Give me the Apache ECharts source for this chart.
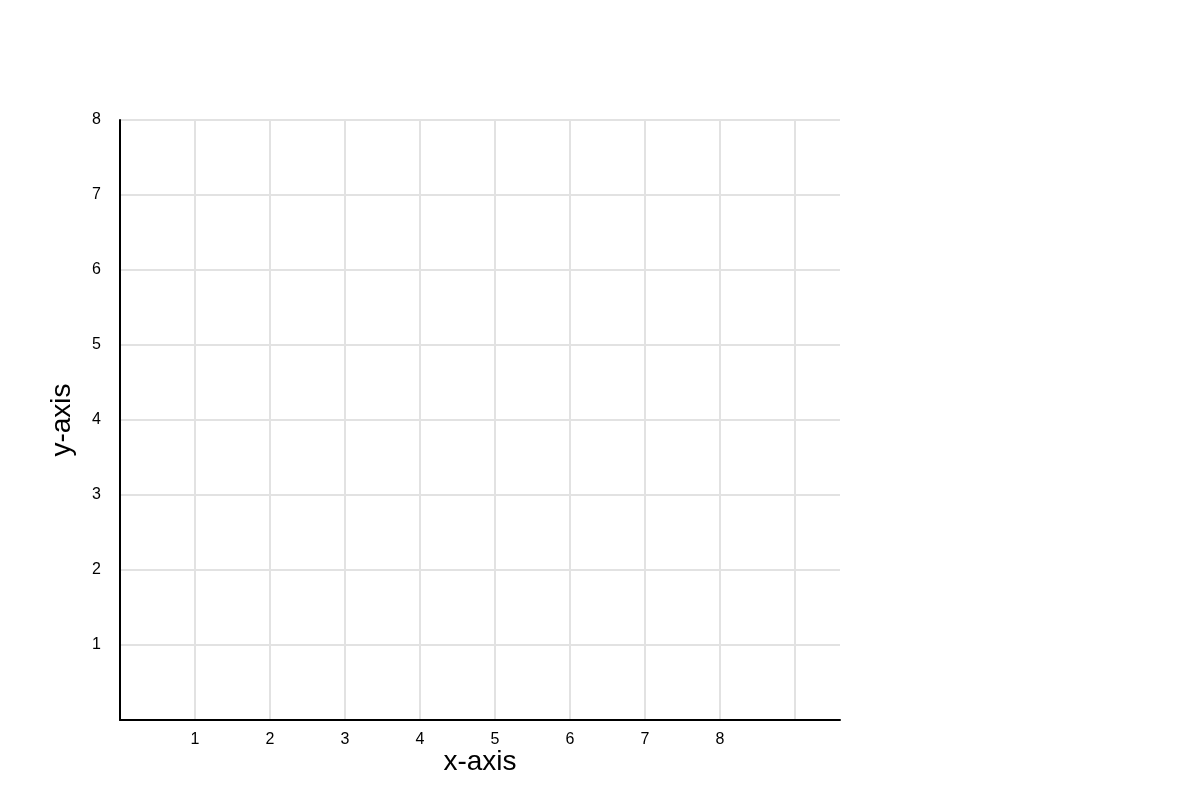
<!DOCTYPE html>
<html>
<head>
  <meta charset="UTF-8">
  <title>chart</title>
  <style>
    * { margin: 0; padding: 0; box-sizing: border-box; }
    body { width: 1200px; height: 800px; background: #fff; overflow: hidden; }
    #chart { width: 1200px; height: 800px; }
  </style>
  <script src="https://cdn.jsdelivr.net/npm/echarts@6/dist/echarts.min.js"></script>
</head>
<body>
  <div id="chart"></div>
  <script>
    // 坐标轴范围与刻度标签
    const xRange = [0, 9.6]
    const yRange = [0, 8]
    const xTickLabels = [1, 2, 3, 4, 5, 6, 7, 8]
    const yTickLabels = [1, 2, 3, 4, 5, 6, 7, 8]
    // 空数据
    const points = []

    const chart = echarts.init(document.getElementById('chart'))

    const axisFont = 'Liberation Sans, Arial, sans-serif'
    const gridColor = '#e2e2e2'

    const option = {
      backgroundColor: '#fff',
      animation: false,
      grid: { left: 120, right: 360, top: 120, bottom: 80 },
      xAxis: {
        type: 'value',
        min: xRange[0],
        max: xRange[1],
        interval: 1,
        name: 'x-axis',
        nameLocation: 'middle',
        nameGap: 28,
        nameMoveOverlap: false,
        nameTextStyle: { fontSize: 28, color: '#000', fontFamily: axisFont },
        axisLine: { show: true, onZero: false, lineStyle: { color: '#000', width: 2 } },
        axisTick: { show: false },
        axisLabel: {
          margin: 12,
          fontSize: 16,
          color: '#000',
          fontFamily: axisFont,
          showMaxLabel: false,
          formatter: v => xTickLabels.includes(v) ? String(v) : ''
        },
        splitLine: {
          show: true,
          showMinLine: false,
          showMaxLine: false,
          lineStyle: { color: gridColor, width: 2 }
        }
      },
      yAxis: {
        type: 'value',
        min: yRange[0],
        max: yRange[1],
        interval: 1,
        name: 'y-axis',
        nameLocation: 'middle',
        nameGap: 44,
        nameMoveOverlap: false,
        nameTextStyle: { fontSize: 28, color: '#000', fontFamily: axisFont },
        axisLine: { show: true, onZero: false, lineStyle: { color: '#000', width: 2 } },
        axisTick: { show: false },
        axisLabel: {
          margin: 19,
          fontSize: 16,
          color: '#000',
          fontFamily: axisFont,
          formatter: v => yTickLabels.includes(v) ? String(v) : ''
        },
        splitLine: {
          show: true,
          showMinLine: false,
          lineStyle: { color: gridColor, width: 2 }
        }
      },
      series: [{
        type: 'scatter',
        data: points
      }]
    }

    chart.setOption(option)
  </script>
</body>
</html>
